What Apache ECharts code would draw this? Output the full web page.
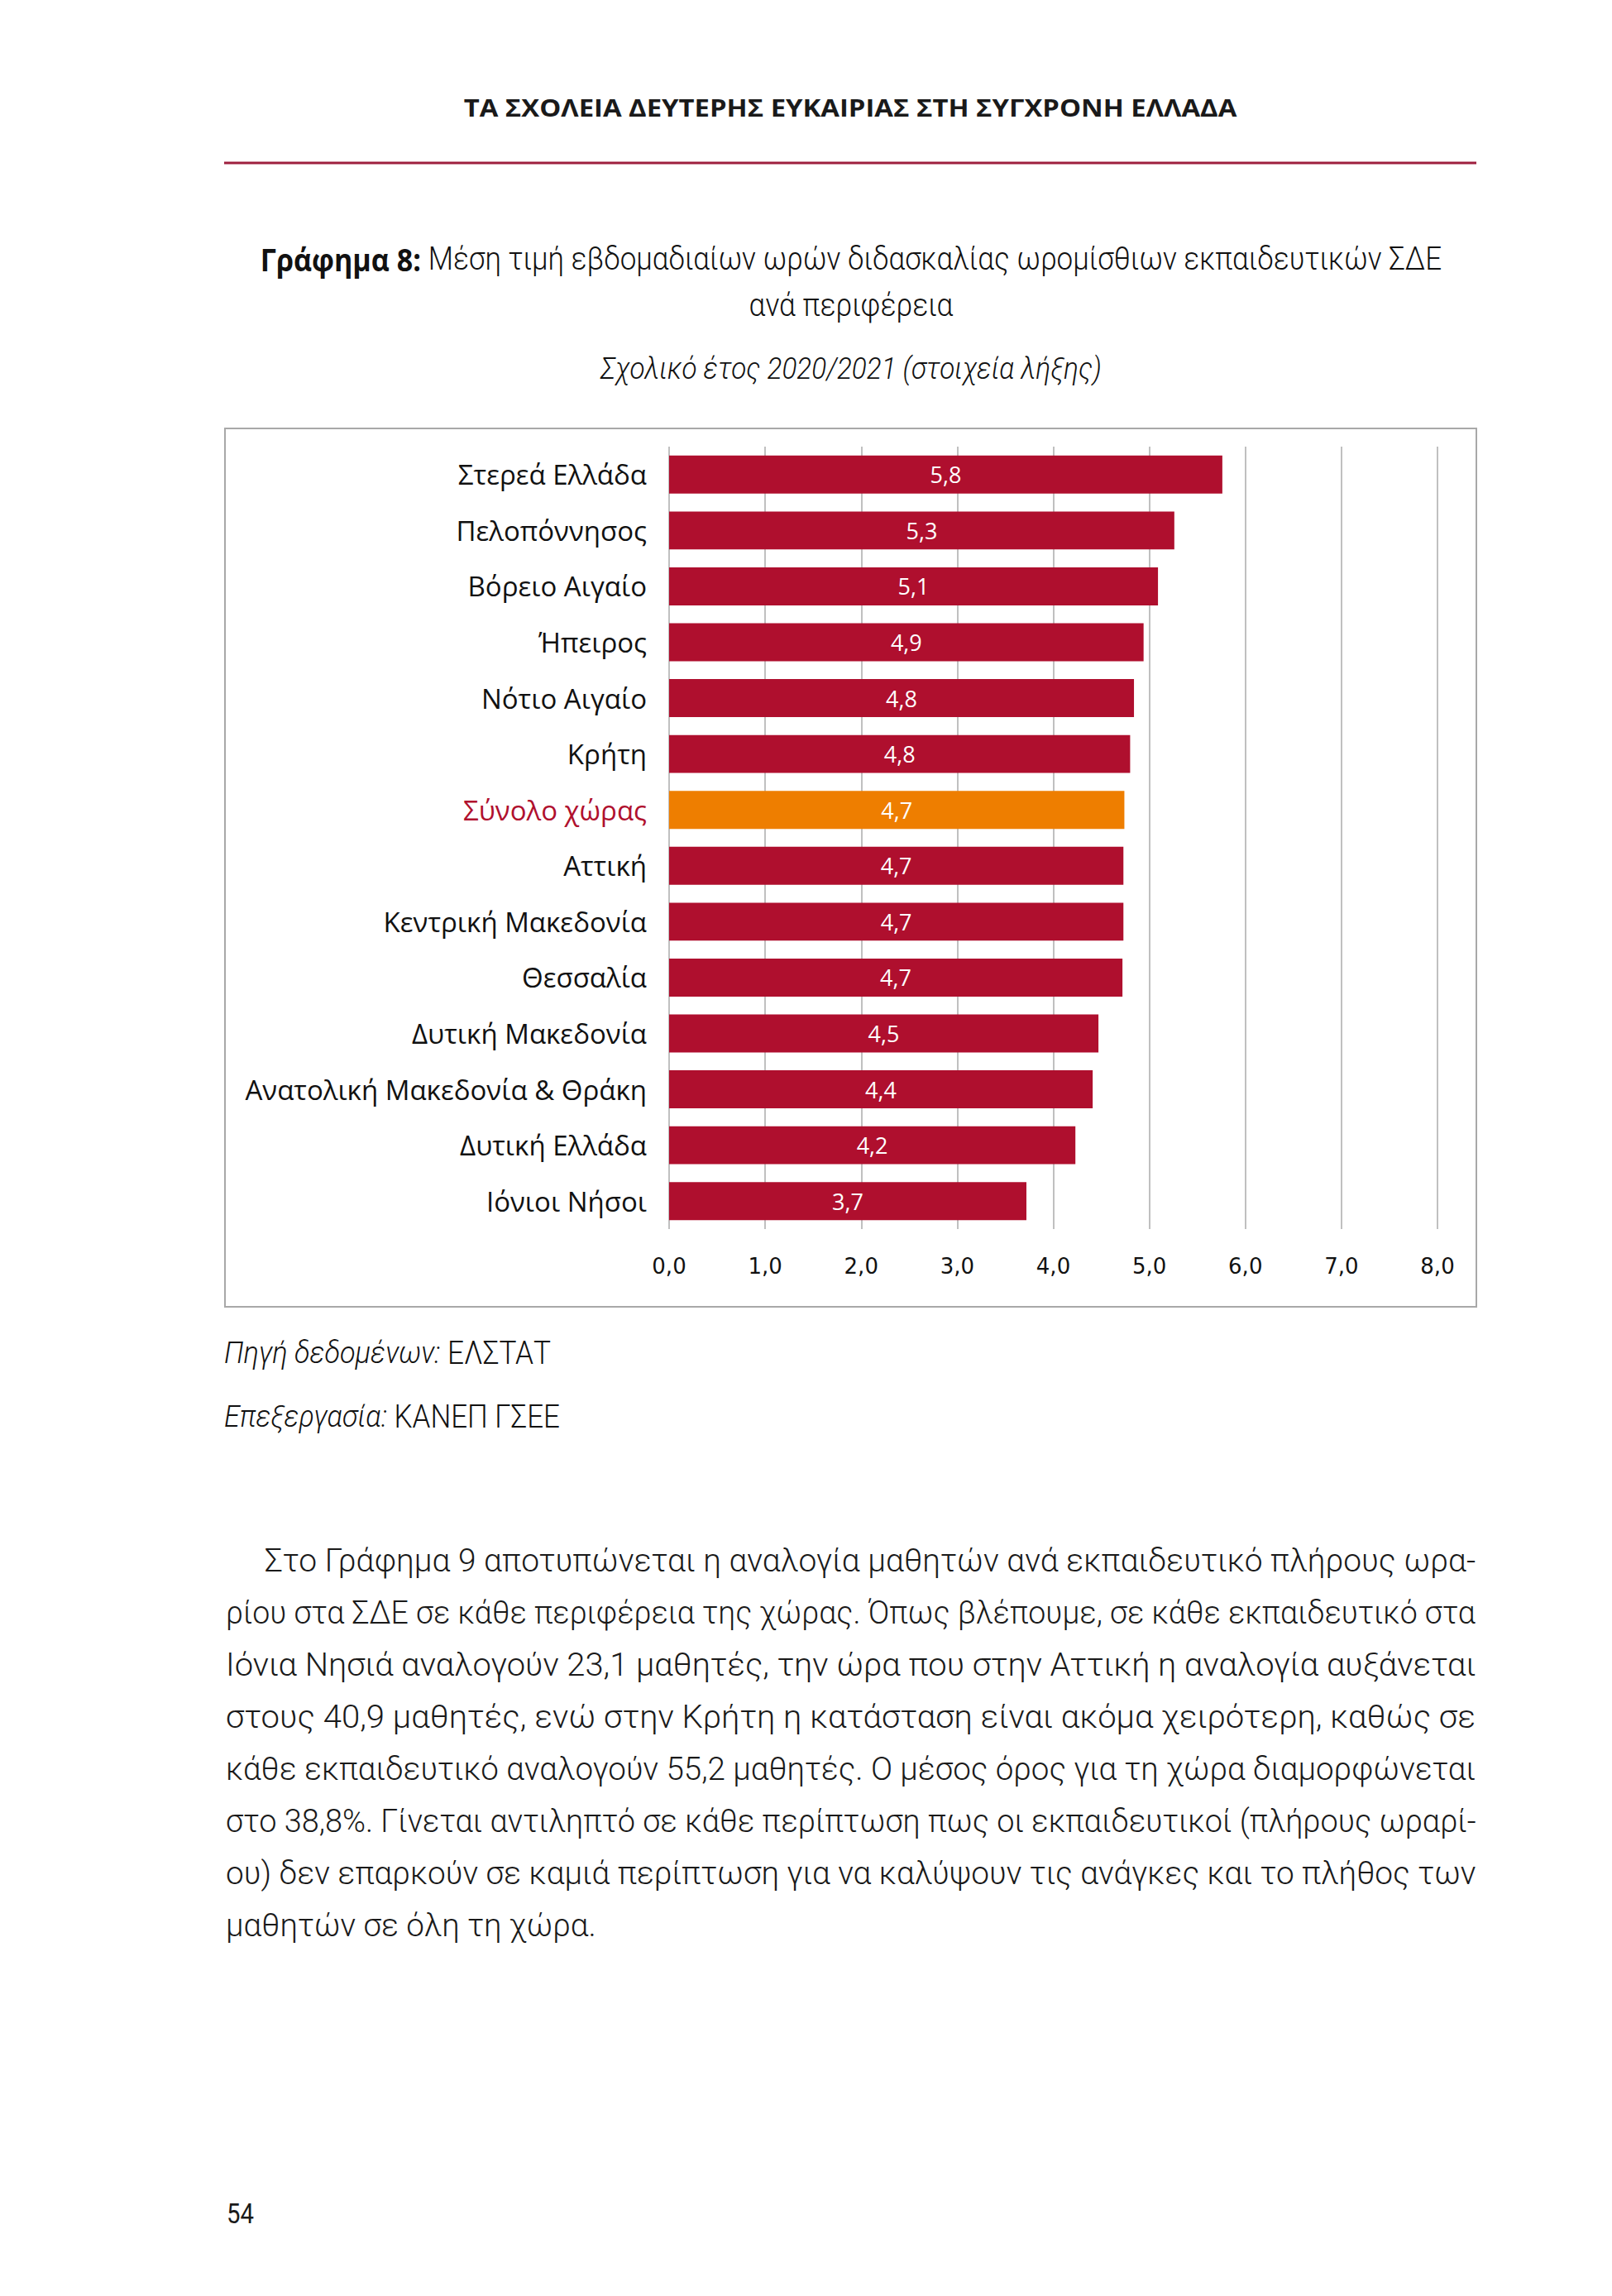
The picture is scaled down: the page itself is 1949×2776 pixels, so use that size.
<!DOCTYPE html>
<html>
<head>
<meta charset="utf-8">
<script src="https://cdn.jsdelivr.net/npm/echarts@6/dist/echarts.min.js"></script>
<style>
html,body{margin:0;padding:0;background:#fff;}
#c{width:1949px;height:2776px;}
</style>
</head>
<body>
<div id="c"></div>
<script>
// ---- data ----
const categories = ['Στερεά Ελλάδα','Πελοπόννησος','Βόρειο Αιγαίο','Ήπειρος','Νότιο Αιγαίο','Κρήτη','Σύνολο χώρας','Αττική','Κεντρική Μακεδονία','Θεσσαλία','Δυτική Μακεδονία','Ανατολική Μακεδονία & Θράκη','Δυτική Ελλάδα','Ιόνιοι Νήσοι'];
const values = [5.76, 5.26, 5.09, 4.94, 4.84, 4.80, 4.74, 4.73, 4.73, 4.72, 4.47, 4.41, 4.23, 3.72];
const totalCategory = 'Σύνολο χώρας';
const xTickLabels = ['0,0','1,0','2,0','3,0','4,0','5,0','6,0','7,0','8,0'];

const headerText = 'ΤΑ ΣΧΟΛΕΙΑ ΔΕΥΤΕΡΗΣ ΕΥΚΑΙΡΙΑΣ ΣΤΗ ΣΥΓΧΡΟΝΗ ΕΛΛΑΔΑ';
const titleBold = 'Γράφημα 8:';
const titleRest = ' Μέση τιμή εβδομαδιαίων ωρών διδασκαλίας ωρομίσθιων εκπαιδευτικών ΣΔΕ';
const titleLine2 = 'ανά περιφέρεια';
const subtitle = 'Σχολικό έτος 2020/2021 (στοιχεία λήξης)';
const sourceLabel = 'Πηγή δεδομένων:';
const sourceValue = ' ΕΛΣΤΑΤ';
const processLabel = 'Επεξεργασία:';
const processValue = ' ΚΑΝΕΠ ΓΣΕΕ';
const bodyLines = [
  'Στο Γράφημα 9 αποτυπώνεται η αναλογία μαθητών ανά εκπαιδευτικό πλήρους ωρα-',
  'ρίου στα ΣΔΕ σε κάθε περιφέρεια της χώρας. Όπως βλέπουμε, σε κάθε εκπαιδευτικό στα',
  'Ιόνια Νησιά αναλογούν 23,1 μαθητές, την ώρα που στην Αττική η αναλογία αυξάνεται',
  'στους 40,9 μαθητές, ενώ στην Κρήτη η κατάσταση είναι ακόμα χειρότερη, καθώς σε',
  'κάθε εκπαιδευτικό αναλογούν 55,2 μαθητές. Ο μέσος όρος για τη χώρα διαμορφώνεται',
  'στο 38,8%. Γίνεται αντιληπτό σε κάθε περίπτωση πως οι εκπαιδευτικοί (πλήρους ωραρί-',
  'ου) δεν επαρκούν σε καμιά περίπτωση για να καλύψουν τις ανάγκες και το πλήθος των',
  'μαθητών σε όλη τη χώρα.'
];
const pageNumber = '54';

// ---- styles ----
const CRIMSON = '#AF0F2E';
const ORANGE = '#EE7E00';
const GRID_GRAY = '#ababab';
const F_LIGHT = '300 38px Roboto';
const F_LIGHT_IT = 'italic 300 37px Roboto';
const F_BOLD = '700 37px "Open Sans"';
const F_HEADER = '700 29px "Open Sans"';
const F_BODY = '300 39px Roboto';

const mctx = document.createElement('canvas').getContext('2d');
function measure(t, f){ mctx.font = f; return mctx.measureText(t).width; }

const graphics = [];
// frame of the chart
graphics.push({type:'rect', shape:{x:272, y:518, width:1513, height:1062}, style:{fill:'none', stroke:'#a8a8a8', lineWidth:2}, silent:true});
// header
(function(){
  const w = measure(headerText, F_HEADER);
  graphics.push({type:'text', x:1028, y:130, scaleX:935/w, style:{text:headerText, font:F_HEADER, fill:'#1a1a1a', textAlign:'center', textVerticalAlign:'middle'}});
})();
// header rule
graphics.push({type:'line', shape:{x1:271, y1:197, x2:1785, y2:197}, style:{stroke:'#9e1f3e', lineWidth:3}});
// title
(function(){
  const w = measure(titleBold, F_BOLD) + measure(titleRest, F_LIGHT);
  graphics.push({type:'text', x:1029, y:313, scaleX:1429/w, style:{
    text:'{b|' + titleBold + '}{l|' + titleRest + '}', textAlign:'center', textVerticalAlign:'middle', fill:'#111',
    rich:{b:{font:F_BOLD, fill:'#111'}, l:{font:F_LIGHT, fill:'#111'}}}});
  const w2 = measure(titleLine2, F_LIGHT);
  graphics.push({type:'text', x:1029, y:369, scaleX:247/w2, style:{text:titleLine2, font:F_LIGHT, fill:'#111', textAlign:'center', textVerticalAlign:'middle'}});
  const w3 = measure(subtitle, F_LIGHT_IT);
  graphics.push({type:'text', x:1029, y:445, scaleX:606/w3, style:{text:subtitle, font:F_LIGHT_IT, fill:'#111', textAlign:'center', textVerticalAlign:'middle'}});
})();
// sources
(function(){
  const ws = measure(sourceLabel, F_LIGHT_IT) + measure(sourceValue, F_LIGHT);
  graphics.push({type:'text', x:271, y:1636, scaleX:395/ws, style:{text:'{i|' + sourceLabel + '}{r|' + sourceValue + '}', textAlign:'left', textVerticalAlign:'middle', fill:'#111',
    rich:{i:{font:F_LIGHT_IT, fill:'#111'}, r:{font:F_LIGHT, fill:'#111'}}}});
  const wp = measure(processLabel, F_LIGHT_IT) + measure(processValue, F_LIGHT);
  graphics.push({type:'text', x:271, y:1713, scaleX:406/wp, style:{text:'{i|' + processLabel + '}{r|' + processValue + '}', textAlign:'left', textVerticalAlign:'middle', fill:'#111',
    rich:{i:{font:F_LIGHT_IT, fill:'#111'}, r:{font:F_LIGHT, fill:'#111'}}}});
})();
// body paragraph (justified by stretching each line to the column width)
(function(){
  const right = 1785;
  bodyLines.forEach(function(line, i){
    const left = i === 0 ? 320 : 273;
    const w = measure(line, F_BODY);
    const target = i === bodyLines.length - 1 ? 448 : right - left;
    graphics.push({type:'text', x:left, y:1887 + i * 62.9, scaleX:target / w, style:{text:line, font:F_BODY, fill:'#1a1a1a', textAlign:'left', textVerticalAlign:'middle'}});
  });
})();
// page number
(function(){
  const f = '400 34px Roboto';
  const w = measure(pageNumber, f);
  graphics.push({type:'text', x:274, y:2677, scaleX:33/w, style:{text:pageNumber, font:f, fill:'#1a1a1a', textAlign:'left', textVerticalAlign:'middle'}});
})();

const chart = echarts.init(document.getElementById('c'), null, {renderer:'svg', width:1949, height:2776});
chart.setOption({
  animation:false,
  backgroundColor:'#ffffff',
  grid:{left:809, right:211, top:540, height:946, containLabel:false},
  xAxis:{
    type:'value', min:0, max:8, interval:1,
    axisLine:{show:false}, axisTick:{show:false},
    splitLine:{show:true, lineStyle:{color:GRID_GRAY, width:1.5}},
    axisLabel:{margin:32, color:'#111', fontFamily:'DejaVu Sans', fontSize:26,
      formatter:function(v){ return xTickLabels[Math.round(v)]; }}
  },
  yAxis:{
    type:'category', inverse:true, data:categories,
    axisLine:{show:false}, axisTick:{show:false},
    axisLabel:{margin:27, fontFamily:'Open Sans', fontSize:33,
      color:function(v){ return v === totalCategory ? '#B0102E' : '#111111'; }}
  },
  series:[{
    type:'bar', barCategoryGap:'32%',
    data: values.map(function(v, i){ return {value:v, itemStyle:{color: categories[i] === totalCategory ? ORANGE : CRIMSON}}; }),
    label:{show:true, position:'inside', color:'#ffffff', fontFamily:'Open Sans', fontSize:27,
      formatter:function(p){ return p.value.toFixed(1).replace('.', ','); }}
  }],
  graphic:graphics
});
</script>
</body>
</html>
